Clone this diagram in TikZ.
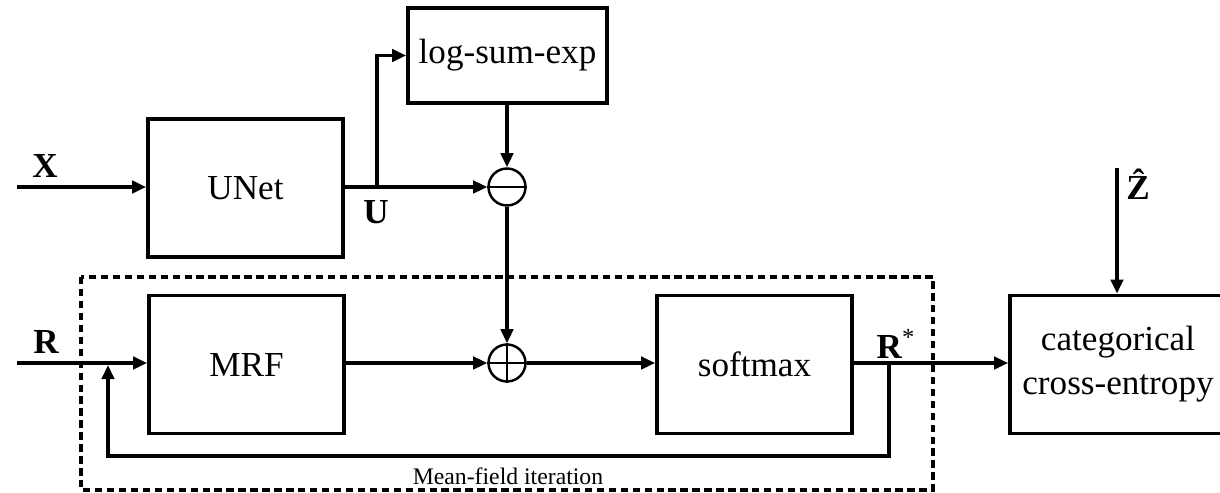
\documentclass[tikz,border=0pt]{standalone}
\usepackage{fontspec}
\setmainfont{Liberation Serif}
\usetikzlibrary{arrows.meta,calc,positioning}

\begin{document}
\begin{tikzpicture}[x=0.02cm,y=-0.02cm,line width=2.1pt,
    >={Triangle[length=8pt,width=7pt]},
    blk/.style={draw,minimum width=3.9cm,minimum height=2.76cm,
      font=\fontsize{20}{25}\selectfont,align=center},
    opc/.style={draw,circle,line width=1.4pt,minimum size=0.74cm,inner sep=0pt},
    lbl/.style={font=\fontsize{20}{24}\selectfont\bfseries}]
  \useasboundingbox (0,0) rectangle (1220,493);

  % blocks
  \node[blk] (unet) at (245.5,188) {UNet};
  \node[blk,minimum width=3.98cm,minimum height=1.9cm] (lse) at (507.5,55.5) {log-sum-exp};
  \node[blk] (mrf) at (246.5,364.5) {MRF};
  \node[blk] (soft) at (754.5,364.5) {softmax};
  \node[blk,minimum width=4.32cm] (cce) at (1118,364.5) {categorical\\cross-entropy};
  \node[opc] (minus) at (507,187) {};
  \node[opc] (plus) at (507,363) {};
  \draw[line width=1.4pt] (minus.west) -- (minus.east);
  \draw[line width=1.4pt] (plus.west) -- (plus.east) (plus.north) -- (plus.south);

  % mean-field loop
  \draw[dash pattern=on 4.2pt off 2.6pt] (81,277) rectangle (933,490);
  \node[font=\fontsize{13.5}{16}\selectfont] (mfi) at (508,476) {Mean-field iteration};

  \coordinate (xin) at (17,187);
  \coordinate (ubr) at (377,187);
  \coordinate (rin) at (17,363);
  \coordinate (rst) at (889,363);
  \coordinate (fb) at (108,365);
  \coordinate (zin) at (1117,168);

  \draw[->] (xin) -- (xin -| unet.west);
  \node[lbl] (xl) at (45,166) {X};
  \draw (unet.east |- ubr) -- (ubr);
  \draw[->] (ubr) |- (lse.west);
  \draw[->] (ubr) -- (minus.west);
  \node[lbl] (ul) at (376,212) {U};
  \draw[->] (lse.south -| minus) -- (minus.north);
  \draw[->] (minus.south) -- (plus.north);

  \draw[->] (rin) -- (rin -| mrf.west);
  \node[lbl] (rl) at (46,342) {R};
  \draw[->] (mrf.east |- plus) -- (plus.west);
  \draw[->] (plus.east) -- (plus -| soft.west);
  \draw (soft.east |- rst) -- (rst);
  \draw[->] (rst) -- (rst -| cce.west);
  \node[lbl] (rsl) at (896,344) {R\textsuperscript{\mdseries*}};
  % feedback to the MRF input
  \draw[->] (rst) -- ++(0,93) -| (fb);

  \draw[->] (zin) -- (zin |- cce.north);
  \node[lbl] (zl) at (1138,184) {\^{Z}};
\end{tikzpicture}
\end{document}
